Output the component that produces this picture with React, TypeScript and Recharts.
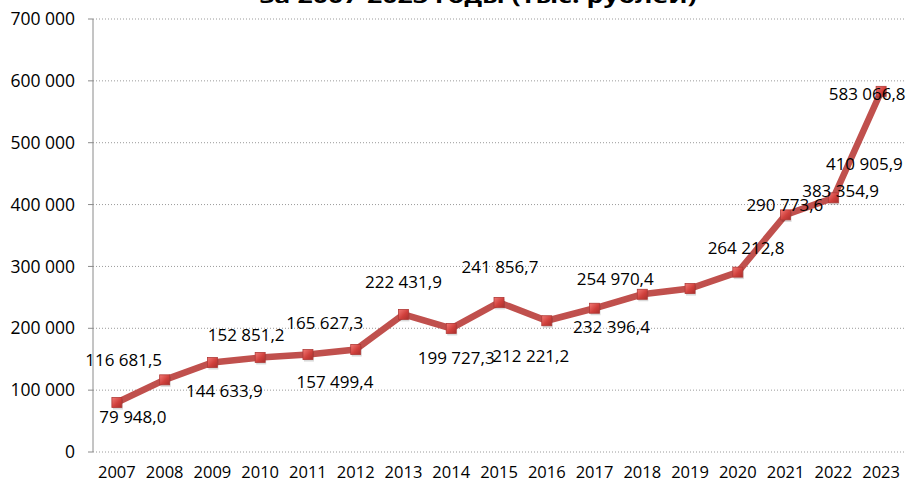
import { LineChart, Line, XAxis, YAxis, CartesianGrid } from 'recharts';

const years = [2007, 2008, 2009, 2010, 2011, 2012, 2013, 2014, 2015, 2016, 2017, 2018, 2019, 2020, 2021, 2022, 2023];
const amounts = [
  79948.0, 116681.5, 144633.9, 152851.2, 157499.4, 165627.3, 222431.9, 199727.3, 241856.7,
  212221.2, 232396.4, 254970.4, 264212.8, 290773.6, 383354.9, 410905.9, 583066.8,
];
const yTicks = [0, 100000, 200000, 300000, 400000, 500000, 600000, 700000];
const title = 'за 2007-2023 годы (тыс. рублей)';

// where each value label sits relative to its point (dx, dy of label centre)
const labelOffsets: [number, number][] = [
  [16, 14], [-41, -20], [12, 28], [-14, -22], [27, 27], [-31, -27], [0, -32], [5, 30], [1, -35],
  [-16, 35], [17, 19], [-27, -15], [56, -41], [47, -67], [55, -24], [31, -34], [-14, 3],
];

const data = years.map((year, i) => ({ year, value: amounts[i] }));
const edges = [...years.map((y) => y - 0.5), years[years.length - 1] + 0.5];

const groupThousands = (s: string) => s.replace(/\B(?=(\d{3})+(?!\d))/g, ' ');
const fmtTick = (v: number) => groupThousands(String(v));
const fmtLabel = (v: number) => {
  const [int, dec] = v.toFixed(1).split('.');
  return `${groupThousands(int)},${dec}`;
};

const ValueLabel = (props: any) => {
  const { x, y, index, value } = props;
  const [dx, dy] = labelOffsets[index] ?? [0, -20];
  return (
    <text x={x + dx} y={y + dy + 6} textAnchor="middle" fontSize={17} fill="#000">
      {fmtLabel(value)}
    </text>
  );
};

const SquareDot = (props: any) => {
  const { cx, cy, index } = props;
  if (cx == null || cy == null) return null;
  return (
    <g key={`dot-${index}`}>
      <rect x={cx - 4} y={cy - 3} width={10} height={10} fill="#000" opacity={0.15} />
      <rect x={cx - 5} y={cy - 5} width={10} height={10} fill="url(#dotFill)" stroke="#B03A37" strokeWidth={0.8} />
    </g>
  );
};

export default function App() {
  return (
    <div style={{ position: 'absolute', left: 0, top: 0, width: 907, height: 484, background: '#fff', fontFamily: '"Open Sans", sans-serif', overflow: 'hidden' }}>
      <svg width={907} height={484} style={{ position: 'absolute', left: 0, top: 0, pointerEvents: 'none' }}>
        <text x={478} y={3} textAnchor="middle" fontSize={20} fontWeight="bold" fill="#000" textLength={437} lengthAdjust="spacingAndGlyphs">
          {title}
        </text>
      </svg>
      <LineChart width={907} height={484} data={data} margin={{ top: 19, right: 2, bottom: 0, left: 0 }}>
        <defs>
          <linearGradient id="dotFill" x1="0" y1="0" x2="1" y2="1">
            <stop offset="0%" stopColor="#F27A76" />
            <stop offset="55%" stopColor="#D0403C" />
            <stop offset="100%" stopColor="#A8302D" />
          </linearGradient>
        </defs>
        <CartesianGrid vertical={false} stroke="#9a9a9a" strokeDasharray="1 2" />
        <XAxis
          xAxisId="edge"
          type="number"
          dataKey="year"
          domain={[edges[0], edges[edges.length - 1]]}
          ticks={edges}
          tick={false}
          tickSize={5}
          height={0}
          stroke="#8a8a8a"
          allowDataOverflow
        />
        <XAxis
          type="number"
          dataKey="year"
          domain={[edges[0], edges[edges.length - 1]]}
          ticks={years}
          tickLine={false}
          axisLine={false}
          height={32}
          tickMargin={8}
          tick={{ fill: '#000', fontSize: 16.5 }}
          interval={0}
          allowDataOverflow
        />
        <YAxis
          domain={[0, 700000]}
          ticks={yTicks}
          tickFormatter={fmtTick}
          width={93}
          tickSize={5}
          tickMargin={13}
          stroke="#8a8a8a"
          tick={{ fill: '#000', fontSize: 17.5 }}
          interval={0}
        />
        <Line
          type="linear"
          dataKey="value"
          stroke="#C0504D"
          strokeWidth={6.5}
          dot={SquareDot}
          activeDot={false}
          label={ValueLabel}
          isAnimationActive={false}
        />
      </LineChart>
    </div>
  );
}
